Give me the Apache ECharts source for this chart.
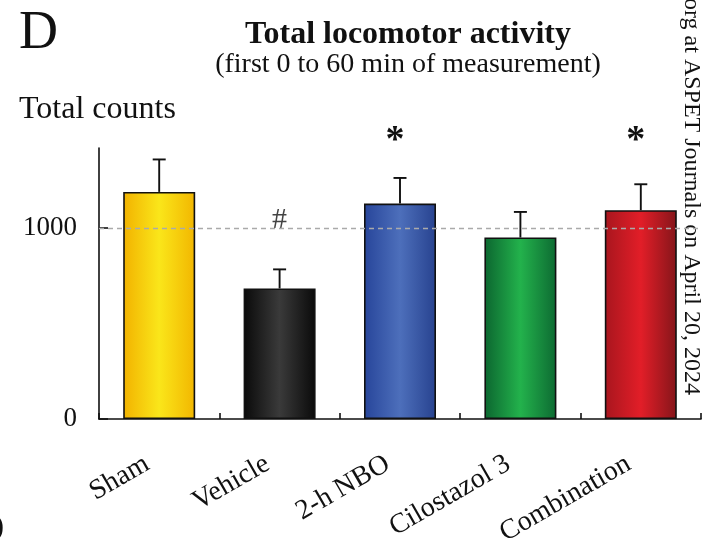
<!DOCTYPE html>
<html>
<head>
<meta charset="utf-8">
<script src="https://cdn.jsdelivr.net/npm/echarts@6/dist/echarts.min.js"></script>
<style>
  html, body { margin: 0; padding: 0; background: #fff; }
  #chart { width: 707px; height: 548px; }
</style>
</head>
<body>
<div id="chart"></div>
<script>
// ---- data ----
var categories = ['Sham', 'Vehicle', '2-h NBO', 'Cilostazol 3', 'Combination'];
var meanCounts = [1190, 684, 1129, 951, 1094];
var semCounts = [170, 100, 134, 134, 136];
var marks = ['', '#', '*', '', '*'];
var yTicks = [0, 1000];
var referenceLevel = 1000;

// ---- styles ----
var SERIF = '"Liberation Serif", "Times New Roman", serif';
var barGradients = [
  ['#f2b200', '#fae61a', '#f2b600'],
  ['#0a0a0a', '#3a3a3a', '#0a0a0a'],
  ['#27459a', '#4d6fbb', '#27428f'],
  ['#0c6630', '#23b24c', '#0d6a32'],
  ['#a8161e', '#e21e28', '#84151a']
];
function grad(c) {
  return new echarts.graphic.LinearGradient(0, 0, 1, 0, [
    { offset: 0, color: c[0] },
    { offset: 0.5, color: c[1] },
    { offset: 1, color: c[2] }
  ]);
}

var chart = echarts.init(document.getElementById('chart'), null, { renderer: 'canvas' });

var barData = meanCounts.map(function (v, i) {
  return { value: v, itemStyle: { color: grad(barGradients[i]) } };
});
var errData = meanCounts.map(function (v, i) {
  return [i, v, v + semCounts[i]];
});
var Y_MAX = 1420;

var option = {
  backgroundColor: '#ffffff',
  animation: false,
  title: [
    {
      text: 'Total locomotor activity',
      subtext: '(first 0 to 60 min of measurement)',
      left: 403,
      top: 14,
      textAlign: 'center',
      itemGap: 0,
      textStyle: { fontFamily: SERIF, fontWeight: 'bold', fontSize: 32, color: '#111' },
      subtextStyle: { fontFamily: SERIF, fontSize: 28, color: '#111' }
    },
    {
      text: 'D',
      left: 14,
      top: 2,
      textStyle: { fontFamily: SERIF, fontWeight: 'normal', fontSize: 54, color: '#111' }
    },
    {
      text: 'Total counts',
      left: 14,
      top: 89,
      textStyle: { fontFamily: SERIF, fontWeight: 'normal', fontSize: 32, color: '#111' }
    }
  ],
  grid: { left: 99, right: 6, top: 148, bottom: 129, containLabel: false, outerBoundsMode: 'none' },
  xAxis: {
    type: 'category',
    data: categories,
    axisLine: { lineStyle: { color: '#111', width: 1.6 } },
    axisTick: { show: true, inside: true, length: 6, lineStyle: { color: '#111', width: 1.6 } },
    axisLabel: {
      rotate: 30,
      margin: 36,
      padding: [0, 14, 0, 0],
      fontFamily: SERIF,
      fontSize: 28,
      color: '#111'
    }
  },
  yAxis: {
    type: 'value',
    min: 0,
    max: Y_MAX,
    interval: 1000,
    axisLine: { show: true, lineStyle: { color: '#111', width: 1.6 } },
    axisTick: { show: true, inside: true, length: 9, customValues: yTicks, lineStyle: { color: '#111', width: 1.6 } },
    axisLabel: {
      margin: 22,
      fontFamily: SERIF,
      fontSize: 27,
      color: '#111',
      customValues: yTicks,
      formatter: function (v) { return String(v); }
    },
    splitLine: { show: false }
  },
  series: [
    {
      type: 'line',
      data: [],
      z: 1,
      silent: true,
      markLine: {
        silent: true,
        symbol: ['none', 'none'],
        label: { show: false },
        lineStyle: { color: '#aaaaaa', type: [5, 4], width: 1.3 },
        data: [{ yAxis: referenceLevel }]
      }
    },
    {
      type: 'bar',
      data: barData,
      barWidth: 72,
      itemStyle: { borderColor: '#111', borderWidth: 1.6 },
      z: 2
    },
    {
      type: 'custom',
      data: errData,
      z: 3,
      renderItem: function (params, api) {
        var x = api.value(0);
        var base = api.coord([x, api.value(1)]);
        var top = api.coord([x, api.value(2)]);
        var mark = marks[params.dataIndex];
        var cap = 13;
        var children = [
          { type: 'line', shape: { x1: base[0], y1: base[1], x2: top[0], y2: top[1] }, style: { stroke: '#111', lineWidth: 1.9 } },
          { type: 'line', shape: { x1: top[0] - cap / 2, y1: top[1], x2: top[0] + cap / 2, y2: top[1] }, style: { stroke: '#111', lineWidth: 1.9 } }
        ];
        if (mark === '#') {
          children.push({
            type: 'text',
            style: {
              text: mark, x: top[0], y: top[1] - 49,
              align: 'center', verticalAlign: 'middle',
              font: '30px ' + SERIF, fill: '#444'
            },
            silent: true
          });
        } else if (mark === '*') {
          var lvl = api.coord([x, Y_MAX])[1];
          children.push({
            type: 'text',
            style: {
              text: mark, x: top[0] - 5, y: lvl - 7,
              align: 'center', verticalAlign: 'middle',
              font: 'bold 38px ' + SERIF, fill: '#111'
            },
            silent: true
          });
        }
        return { type: 'group', children: children };
      }
    }
  ],
  graphic: [
    {
      type: 'text',
      x: 679,
      y: -2,
      rotation: -Math.PI / 2,
      style: {
        text: 'org at ASPET Journals on April 20, 2024',
        font: '24px ' + SERIF,
        fill: '#111',
        verticalAlign: 'bottom',
        align: 'left'
      }
    },
    {
      type: 'text',
      x: -6,
      y: 512,
      style: { text: ')', font: '30px ' + SERIF, fill: '#111' }
    }
  ]
};
chart.setOption(option);
</script>
</body>
</html>
